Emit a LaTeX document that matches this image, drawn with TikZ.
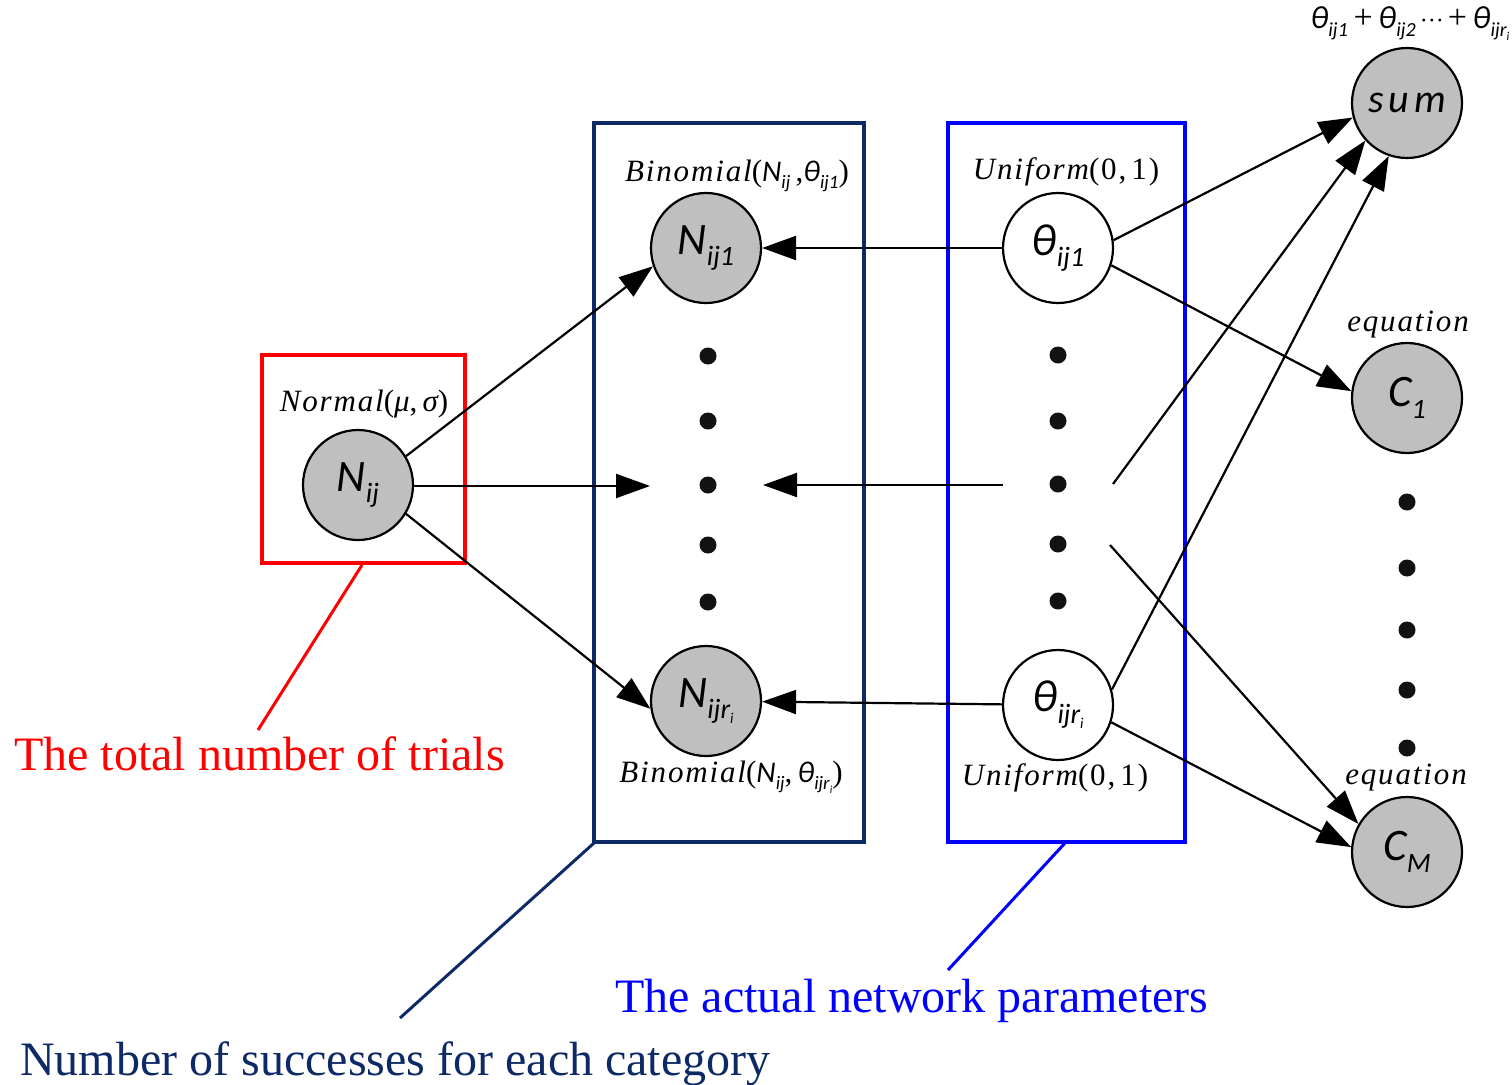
\documentclass[tikz,border=0pt]{standalone}
\usepackage{fontspec}
\setmainfont{Liberation Serif}
\newfontfamily\calfont{Carlito}
\newfontfamily\distfont[LetterSpace=6]{Liberation Serif}
\usetikzlibrary{arrows.meta}
\definecolor{navyb}{RGB}{14,42,102}
\definecolor{redb}{RGB}{255,0,0}
\definecolor{blueb}{RGB}{0,0,255}
\definecolor{nodegray}{RGB}{191,191,191}
% variable with subscript: #1 symbol, #2 subscript, #3 size, #4 subscript size
\newcommand\sv[4]{{\calfont\itshape\fontsize{#3}{#3}\selectfont #1\raisebox{-0.25em}{\fontsize{#4}{#4}\selectfont #2}}}
\newcommand\ri[1]{r\raisebox{-0.2em}{\fontsize{#1}{#1}\selectfont i}}
\newcommand\up[1]{{\upshape #1}}
\tikzset{
  gnode/.style={circle, draw, line width=2.2pt, fill=nodegray, minimum size=110pt, inner sep=0pt},
  wnode/.style={gnode, fill=white},
  dotn/.style={circle, fill=black!93, minimum size=17pt, inner sep=0pt},
  arr/.style={line width=2.2pt, -{Triangle[length=34pt,width=24pt]}},
  dist/.style={inner sep=0pt, font=\distfont\itshape\fontsize{31pt}{31pt}\selectfont},
  caption/.style={anchor=base west, inner sep=0pt, font=\fontsize{48pt}{48pt}\selectfont},
}
\begin{document}
\begin{tikzpicture}[x=1pt,y=-1pt]
\useasboundingbox (0,0) rectangle (1512,1084);

% plate boxes
\draw[redb, line width=4pt] (262,355) rectangle (465,563);
\draw[navyb, line width=4pt] (594,123) rectangle (864,842);
\draw[blueb, line width=4pt] (948,123) rectangle (1185,842);

% random variables
\node[gnode] (Nij) at (358,485) {\sv{N}{ij}{45pt}{28pt}};
\node[gnode] (Nij1) at (706,248) {\sv{N}{ij1}{45pt}{28pt}};
\node[gnode] (Nijr) at (706,701) {\sv{N}{ij\ri{15pt}}{45pt}{28pt}};
\node[wnode] (th1) at (1058,248) {\sv{θ}{ij1}{45pt}{28pt}};
\node[wnode] (thr) at (1058,705) {\sv{θ}{ij\ri{15pt}}{45pt}{28pt}};
\node[gnode] (sum) at (1407,103) {{\calfont\itshape\addfontfeature{LetterSpace=12}\fontsize{40pt}{40pt}\selectfont sum}};
\node[gnode] (C1) at (1407,398) {\sv{C}{1}{45pt}{28pt}};
\node[gnode] (CM) at (1407,852) {\sv{C}{M}{45pt}{28pt}};

% ellipsis dots
\foreach \y [count=\i] in {356,421,485,545,602}
  \node[dotn] (da\i) at (708,\y) {};
\foreach \y [count=\i] in {355,421,484,544,601}
  \node[dotn] (db\i) at (1058,\y) {};
\foreach \y [count=\i] in {502,568,630,690,748}
  \node[dotn] (dc\i) at (1407,\y) {};

% free ends of the middle connectors
\coordinate (midL) at (650,486);
\coordinate (midR) at (763,485);
\coordinate (thm) at (1003,485);
\coordinate (thA) at (1113,484);
\coordinate (thB) at (1110,545);

% distribution labels
\node[dist] (lnorm) at (364,404) {Normal\up{(}μ\up{,\,}σ\up{)}};
\node[dist] (lbin1) at (737,176) {Binomial\up{(}\sv{N}{ij}{30pt}{19pt}\,\up{,}\sv{θ}{ij1}{30pt}{19pt}\up{)}};
\node[dist] (lbinr) at (731,777) {Binomial\up{(}\sv{N}{ij}{30pt}{19pt}\up{,}\,\sv{θ}{ij\ri{11pt}}{30pt}{19pt}\up{)}};
\node[dist] (luni1) at (1066,172) {Uniform\up{(0,\,1)}};
\node[dist] (lunir) at (1055,778) {Uniform\up{(0,\,1)}};
\node[dist] (leq1) at (1408,325) {equation};
\node[dist] (leqM) at (1406,778) {equation};
\node[inner sep=0pt] (lsum) at (1410,24) {\sv{θ}{ij1}{32pt}{20pt}{\fontsize{34pt}{34pt}\selectfont\,+\,}\sv{θ}{ij2}{32pt}{20pt}{\fontsize{24pt}{24pt}\selectfont\,···\,}{\fontsize{34pt}{34pt}\selectfont+\,}\sv{θ}{ij\ri{12pt}}{32pt}{20pt}};

% edges
\draw[arr] (Nij.31) -- (Nij1.199);
\draw[arr] (Nij.-31) -- (Nijr.188);
\draw[arr] (Nij.east |- midL) -- (midL);
\draw[arr] (th1) -- (Nij1);
\draw[arr] (thm) -- (midR);
\draw[arr] (thr) -- (Nijr);
\draw[arr] (th1.8) -- (sum.195);
\draw[arr] (th1.-18) -- (C1.173);
\draw[arr] (thA) -- (sum.222);
\draw[arr] (thB) -- (CM.150);
\draw[arr] (thr.16) -- (sum.251);
\draw[arr] (thr.-18) -- (CM.175);

% captions and pointers
\coordinate (pr) at (258,730);
\coordinate (pn) at (400,1018);
\coordinate (pb) at (948,970);
\draw[redb, line width=3pt] (362,565) -- (pr);
\draw[navyb, line width=3pt] (594,843) -- (pn);
\draw[blueb, line width=3pt] (1065,843) -- (pb);
\node[caption, text=redb] (ctot) at (14,770) {The total number of trials};
\node[caption, text=blueb] (cact) at (615,1012) {The actual network parameters};
\node[caption, text=navyb] (cnum) at (20,1075) {Number of successes for each category};
\end{tikzpicture}
\end{document}
